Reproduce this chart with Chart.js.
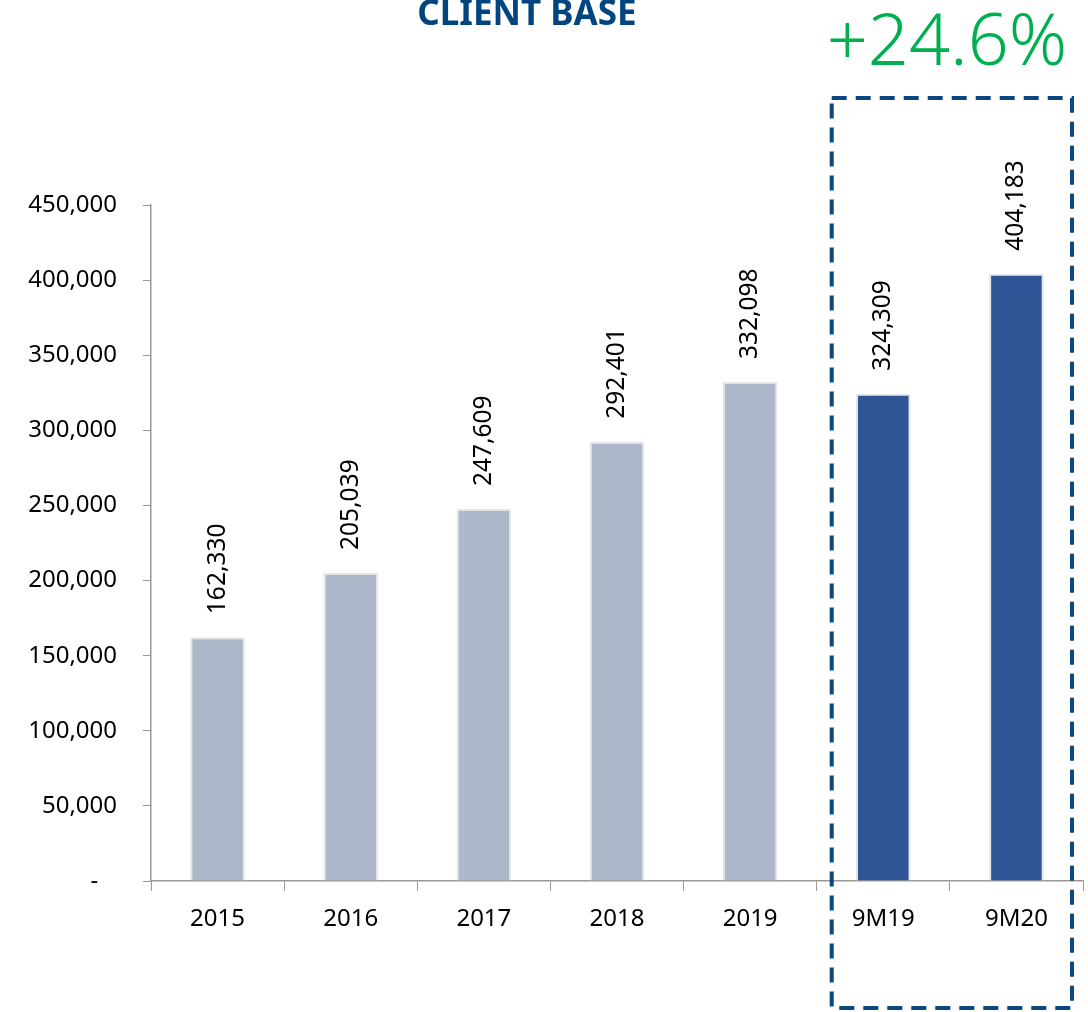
<!DOCTYPE html>
<html>
<head>
<meta charset="utf-8">
<script src="https://cdn.jsdelivr.net/npm/chart.js@4/dist/chart.umd.min.js"></script>
<style>
  html, body { margin: 0; padding: 0; background: #fff; }
  #wrap { width: 1088px; height: 1012px; }
</style>
</head>
<body>
<div id="wrap"><canvas id="clientChart"></canvas></div>
<script>
const categories = ['2015', '2016', '2017', '2018', '2019', '9M19', '9M20'];
const clients = [162330, 205039, 247609, 292401, 332098, 324309, 404183];
const barColors = ['#ADB9CA', '#ADB9CA', '#ADB9CA', '#ADB9CA', '#ADB9CA', '#2F5597', '#2F5597'];
const yTicks = [0, 50000, 100000, 150000, 200000, 250000, 300000, 350000, 400000, 450000];
const growthLabel = '+24.6%';
const titleText = 'CLIENT BASE';

const FONT = '"Noto Sans", "Open Sans", sans-serif';

function fmt(v) {
    if (v === 0) return '-   ';
    return v.toLocaleString('en-US');
}

// value labels, title, growth note and the dashed highlight box
const extras = {
    id: 'extras',
    afterDatasetsDraw(chart) {
        const ctx = chart.ctx;
        const meta = chart.getDatasetMeta(0);
        const x = chart.scales.x;

        ctx.save();
        ctx.fillStyle = '#000';
        ctx.font = '24.5px ' + FONT;
        ctx.textAlign = 'left';
        ctx.textBaseline = 'middle';
        meta.data.forEach((bar, i) => {
            ctx.save();
            ctx.translate(bar.x, bar.y - 23);
            ctx.rotate(-Math.PI / 2);
            ctx.fillText(clients[i].toLocaleString('en-US'), 0, 0);
            ctx.restore();
        });

        ctx.fillStyle = '#00457F';
        ctx.font = 'bold 35px ' + FONT;
        ctx.textAlign = 'center';
        ctx.textBaseline = 'alphabetic';
        ctx.fillText(titleText, 527, 25);

        // dashed box around the 9M columns
        const step = x.getPixelForValue(6) - x.getPixelForValue(5);
        const left = x.getPixelForValue(5) - step / 2 + 15;
        const right = x.getPixelForValue(6) + step / 2 - 11;
        ctx.strokeStyle = '#0B4682';
        ctx.lineWidth = 4;
        ctx.setLineDash([15, 9]);
        ctx.strokeRect(left, 98, right - left, 910);
        ctx.setLineDash([]);

        ctx.fillStyle = '#00B050';
        ctx.font = '300 72px ' + FONT;
        ctx.textAlign = 'center';
        ctx.textBaseline = 'alphabetic';
        ctx.fillText(growthLabel, 947, 65);
        ctx.restore();
    }
};

new Chart(document.getElementById('clientChart'), {
    type: 'bar',
    data: {
        labels: categories,
        datasets: [{
            data: clients,
            backgroundColor: barColors,
            borderColor: '#E3E5E9',
            borderWidth: 2,
            barPercentage: 0.41,
            categoryPercentage: 1
        }]
    },
    options: {
        responsive: true,
        maintainAspectRatio: false,
        animation: false,
        layout: { padding: { top: 205, right: 5, left: 0, bottom: 0 } },
        plugins: {
            legend: { display: false },
            tooltip: { enabled: false }
        },
        scales: {
            x: {
                grid: {
                    drawOnChartArea: false,
                    tickLength: 10,
                    color: '#999',
                    offset: true
                },
                border: { color: '#999', width: 1.5 },
                ticks: {
                    color: '#000',
                    font: { size: 24, family: FONT },
                    padding: 14,
                    maxRotation: 0
                },
                afterFit(scale) { scale.height = 131; }
            },
            y: {
                min: 0,
                max: 450000,
                afterBuildTicks(scale) {
                    scale.ticks = yTicks.map(v => ({ value: v }));
                },
                grid: {
                    drawOnChartArea: false,
                    tickLength: 8,
                    color: '#999'
                },
                border: { color: '#999', width: 1.5 },
                ticks: {
                    color: '#000',
                    font: { size: 24, family: FONT },
                    padding: 26,
                    callback: v => fmt(v)
                },
                afterFit(scale) { scale.width = 151; }
            }
        }
    },
    plugins: [extras]
});
</script>
</body>
</html>
